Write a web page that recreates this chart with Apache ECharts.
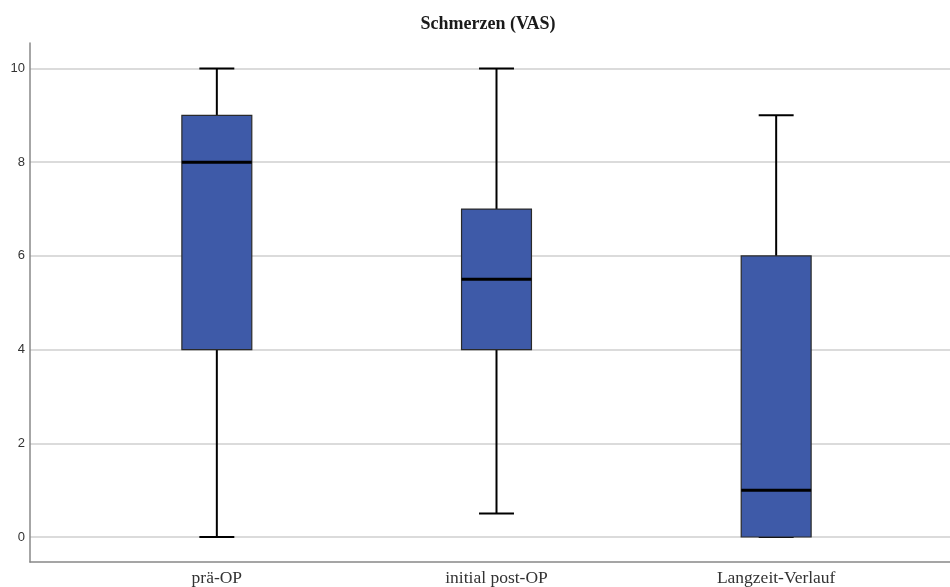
<!DOCTYPE html>
<html><head><meta charset="utf-8">
<script src="https://cdn.jsdelivr.net/npm/echarts@6/dist/echarts.min.js"></script>
<style>html,body{margin:0;padding:0;background:#fff}#c{width:950px;height:587px}</style>
</head><body><div id="c"></div>
<script>
var categories = ['prä-OP', 'initial post-OP', 'Langzeit-Verlauf'];
var whiskerMin = [0, 0.5, 0];
var q1 = [4, 4, 0];
var median = [8, 5.5, 1];
var q3 = [9, 7, 6];
var whiskerMax = [10, 10, 9];
var yTicks = [0, 2, 4, 6, 8, 10];

var data = categories.map(function (c, i) { return [i, whiskerMin[i], q1[i], median[i], q3[i], whiskerMax[i]]; });

var chart = echarts.init(document.getElementById('c'));
chart.setOption({
  animation: false,
  title: { text: 'Schmerzen (VAS)', left: 483, top: 10, textAlign: 'center',
    textStyle: { fontFamily: 'Liberation Serif', fontWeight: 'bold', fontSize: 18, color: '#1a1a1a' } },
  grid: [
    { left: 30, right: 0, top: 43, bottom: 25 },
    { left: 30, right: 0, top: 68.5, bottom: 50 },
    { left: 77, right: 34, top: 68.5, bottom: 50 }
  ],
  xAxis: [
    { gridIndex: 0, type: 'value', min: 0, max: 1, axisLine: { show: true, onZero: false, lineStyle: { color: '#888', width: 1.5 } }, axisTick: { show: false }, axisLabel: { show: false }, splitLine: { show: false } },
    { gridIndex: 1, type: 'value', min: 0, max: 1, show: false },
    { gridIndex: 2, type: 'category', data: categories, axisLine: { show: false }, axisTick: { show: false },
      axisLabel: { margin: 32, fontFamily: 'Liberation Serif', fontSize: 17.5, color: '#333' } }
  ],
  yAxis: [
    { gridIndex: 0, type: 'value', min: 0, max: 1, axisLine: { show: true, lineStyle: { color: '#888', width: 1.5 } }, axisTick: { show: false }, axisLabel: { show: false }, splitLine: { show: false } },
    { gridIndex: 1, type: 'value', min: yTicks[0], max: yTicks[yTicks.length - 1], interval: 2,
      axisLine: { show: false }, axisTick: { show: false },
      axisLabel: { margin: 5, fontFamily: 'Liberation Sans', fontSize: 13, color: '#333' },
      splitLine: { show: true, lineStyle: { color: '#cfcfcf', width: 1.5 } } },
    { gridIndex: 2, type: 'value', min: 0, max: 10, show: false }
  ],
  series: [{
    type: 'custom',
    xAxisIndex: 2, yAxisIndex: 2,
    data: data,
    renderItem: function (params, api) {
      var x = api.value(0);
      var band = api.size([1, 0])[0];
      var bw = band * 0.25, cw = band * 0.125;
      var pMin = api.coord([x, api.value(1)]);
      var pQ1 = api.coord([x, api.value(2)]);
      var pMed = api.coord([x, api.value(3)]);
      var pQ3 = api.coord([x, api.value(4)]);
      var pMax = api.coord([x, api.value(5)]);
      var cx = pMin[0];
      var wStyle = { stroke: '#000', lineWidth: 2 };
      return { type: 'group', children: [
        { type: 'line', shape: { x1: cx, y1: pMax[1], x2: cx, y2: pQ3[1] }, style: wStyle },
        { type: 'line', shape: { x1: cx, y1: pMin[1], x2: cx, y2: pQ1[1] }, style: wStyle },
        { type: 'line', shape: { x1: cx - cw / 2, y1: pMax[1], x2: cx + cw / 2, y2: pMax[1] }, style: wStyle },
        { type: 'line', shape: { x1: cx - cw / 2, y1: pMin[1], x2: cx + cw / 2, y2: pMin[1] }, style: wStyle },
        { type: 'rect', shape: { x: cx - bw / 2, y: pQ3[1], width: bw, height: pQ1[1] - pQ3[1] },
          style: { fill: '#3e5aa8', stroke: '#2a2a2a', lineWidth: 1.2 } },
        { type: 'line', shape: { x1: cx - bw / 2, y1: pMed[1], x2: cx + bw / 2, y2: pMed[1] }, style: { stroke: '#000', lineWidth: 3 } }
      ] };
    }
  }]
});
</script></body></html>
